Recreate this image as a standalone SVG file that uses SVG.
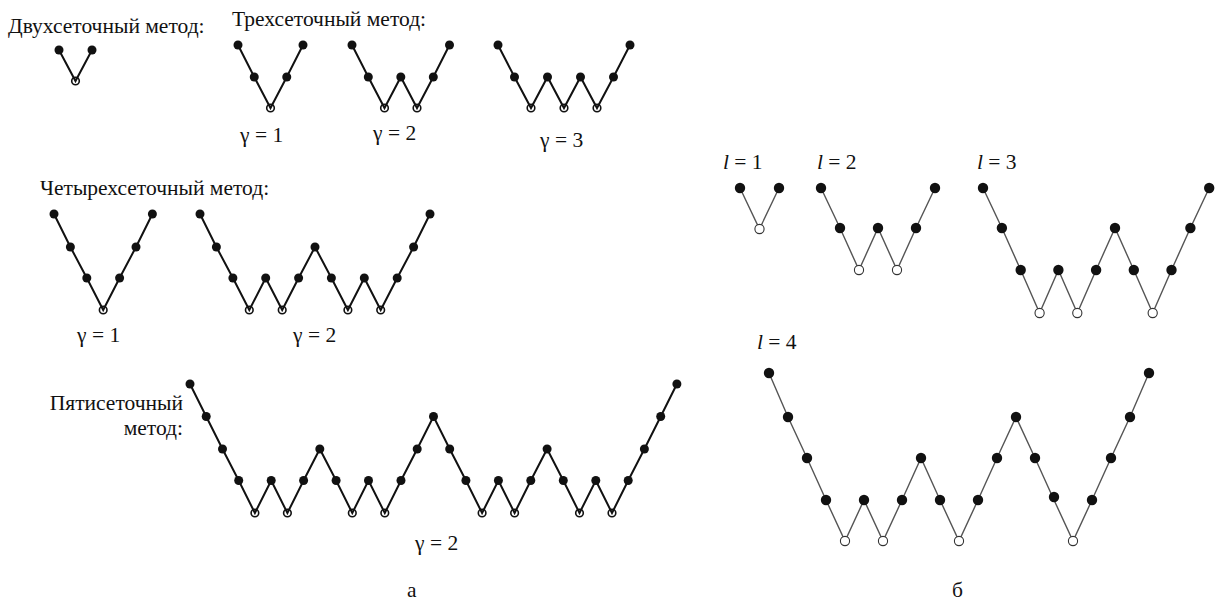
<svg xmlns="http://www.w3.org/2000/svg" width="1217" height="602" viewBox="0 0 1217 602">
<style>
text{font-size:21.5px;fill:#111}
.it{font-style:italic}
.la{fill:none;stroke:#111;stroke-width:2;stroke-linejoin:miter}
.lb{fill:none;stroke:#555;stroke-width:1.4}
.fa{fill:#111}
.oa{fill:none;stroke:#111;stroke-width:1.6}
.fb{fill:#111}
.ob{fill:#fff;stroke:#333;stroke-width:1.1}
</style>
<rect width="1217" height="602" fill="#fff"/>
<g id="labels" font-family="Liberation Serif, serif">
<text x="8" y="33">Двухсеточный метод:</text>
<text x="232" y="26">Трехсеточный метод:</text>
<text x="240" y="142">γ = 1</text>
<text x="373" y="140">γ = 2</text>
<text x="540" y="147">γ = 3</text>
<text x="40" y="195">Четырехсеточный метод:</text>
<text x="77" y="342">γ = 1</text>
<text x="293" y="342">γ = 2</text>
<text x="183" y="410" text-anchor="end">Пятисеточный</text>
<text x="183" y="435" text-anchor="end">метод:</text>
<text x="415" y="550">γ = 2</text>
<text x="407" y="597">а</text>
<text x="723" y="169"><tspan class="it">l</tspan> = 1</text>
<text x="817" y="169"><tspan class="it">l</tspan> = 2</text>
<text x="977" y="169"><tspan class="it">l</tspan> = 3</text>
<text x="757" y="349"><tspan class="it">l</tspan> = 4</text>
<text x="952" y="597">б</text>
</g>
<g id="connectors">
<polyline class="la" points="59,50 75.5,81 92,50"/>
<polyline class="la" points="238,45 254.25,77 270.5,108 286.75,77 303,45"/>
<polyline class="la" points="352,45 368.3,77 384.5,108 400.8,77 417,108 433.3,77 449.5,45"/>
<polyline class="la" points="498,45 514.5,77 531,108 547.5,77 564,108 580.5,77 597,108 613.5,77 630,45"/>
<polyline class="la" points="54,214 70.4,247 86.8,278 103.2,310 119.6,278 136,247 152.4,214"/>
<polyline class="la" points="200,214 216.4,247 232.9,278 249.3,310 265.7,278 282.2,310 298.6,278 315,247 331.4,278 347.9,310 364.3,278 380.7,310 397.2,278 413.6,247 430,214"/>
<polyline class="la" points="190,384 206.2,416.5 222.5,449 238.7,480.5 254.9,513 271.2,480.5 287.4,513 303.6,480.5 319.8,449 336.1,480.5 352.3,513 368.5,480.5 384.8,513 401,480.5 417.2,449 433.5,416.5 449.7,449 465.9,480.5 482.1,513 498.4,480.5 514.6,513 530.8,480.5 547.1,449 563.3,480.5 579.5,513 595.8,480.5 612,513 628.2,480.5 644.4,449 660.7,416.5 676.9,384"/>
<polyline class="lb" points="740,188 759.5,229 779,188"/>
<polyline class="lb" points="821,188 840,228 859,270 878,228 897,270 916,228 935,188"/>
<polyline class="lb" points="983,188 1001.9,228 1020.7,270 1039.6,313 1058.4,270 1077.3,313 1096.1,270 1115,228 1133.8,270 1152.7,313 1171.5,270 1190.4,228 1209.2,188"/>
<polyline class="lb" points="769,373 788,417 807,458 826,500 845,541 864,500 883,541 902,500 921,458 940,500 959,541 978,500 997,458 1016,417 1035,458 1054,500 1073,541 1092,500 1111,458 1130,417 1149,373"/>
</g>
<g id="two-grid">
<circle class="fa" cx="59" cy="50" r="4.5"/><circle class="oa" cx="75.5" cy="81" r="3.8"/><circle class="fa" cx="92" cy="50" r="4.5"/>
</g>
<g id="three-grid-g1">
<circle class="fa" cx="238" cy="45" r="4.5"/><circle class="fa" cx="254.25" cy="77" r="4.5"/><circle class="oa" cx="270.5" cy="108" r="3.8"/><circle class="fa" cx="286.75" cy="77" r="4.5"/><circle class="fa" cx="303" cy="45" r="4.5"/>
</g>
<g id="three-grid-g2">
<circle class="fa" cx="352" cy="45" r="4.5"/><circle class="fa" cx="368.3" cy="77" r="4.5"/><circle class="oa" cx="384.5" cy="108" r="3.8"/><circle class="fa" cx="400.8" cy="77" r="4.5"/><circle class="oa" cx="417" cy="108" r="3.8"/><circle class="fa" cx="433.3" cy="77" r="4.5"/><circle class="fa" cx="449.5" cy="45" r="4.5"/>
</g>
<g id="three-grid-g3">
<circle class="fa" cx="498" cy="45" r="4.5"/><circle class="fa" cx="514.5" cy="77" r="4.5"/><circle class="oa" cx="531" cy="108" r="3.8"/><circle class="fa" cx="547.5" cy="77" r="4.5"/><circle class="oa" cx="564" cy="108" r="3.8"/><circle class="fa" cx="580.5" cy="77" r="4.5"/><circle class="oa" cx="597" cy="108" r="3.8"/><circle class="fa" cx="613.5" cy="77" r="4.5"/><circle class="fa" cx="630" cy="45" r="4.5"/>
</g>
<g id="four-grid-g1">
<circle class="fa" cx="54" cy="214" r="4.5"/><circle class="fa" cx="70.4" cy="247" r="4.5"/><circle class="fa" cx="86.8" cy="278" r="4.5"/><circle class="oa" cx="103.2" cy="310" r="3.8"/><circle class="fa" cx="119.6" cy="278" r="4.5"/><circle class="fa" cx="136" cy="247" r="4.5"/><circle class="fa" cx="152.4" cy="214" r="4.5"/>
</g>
<g id="four-grid-g2">
<circle class="fa" cx="200" cy="214" r="4.5"/><circle class="fa" cx="216.4" cy="247" r="4.5"/><circle class="fa" cx="232.9" cy="278" r="4.5"/><circle class="oa" cx="249.3" cy="310" r="3.8"/><circle class="fa" cx="265.7" cy="278" r="4.5"/><circle class="oa" cx="282.2" cy="310" r="3.8"/><circle class="fa" cx="298.6" cy="278" r="4.5"/><circle class="fa" cx="315" cy="247" r="4.5"/><circle class="fa" cx="331.4" cy="278" r="4.5"/><circle class="oa" cx="347.9" cy="310" r="3.8"/><circle class="fa" cx="364.3" cy="278" r="4.5"/><circle class="oa" cx="380.7" cy="310" r="3.8"/><circle class="fa" cx="397.2" cy="278" r="4.5"/><circle class="fa" cx="413.6" cy="247" r="4.5"/><circle class="fa" cx="430" cy="214" r="4.5"/>
</g>
<g id="five-grid-g2">
<circle class="fa" cx="190" cy="384" r="4.5"/><circle class="fa" cx="206.2" cy="416.5" r="4.5"/><circle class="fa" cx="222.5" cy="449" r="4.5"/><circle class="fa" cx="238.7" cy="480.5" r="4.5"/><circle class="oa" cx="254.9" cy="513" r="3.8"/><circle class="fa" cx="271.2" cy="480.5" r="4.5"/><circle class="oa" cx="287.4" cy="513" r="3.8"/><circle class="fa" cx="303.6" cy="480.5" r="4.5"/><circle class="fa" cx="319.8" cy="449" r="4.5"/><circle class="fa" cx="336.1" cy="480.5" r="4.5"/><circle class="oa" cx="352.3" cy="513" r="3.8"/><circle class="fa" cx="368.5" cy="480.5" r="4.5"/><circle class="oa" cx="384.8" cy="513" r="3.8"/><circle class="fa" cx="401" cy="480.5" r="4.5"/><circle class="fa" cx="417.2" cy="449" r="4.5"/><circle class="fa" cx="433.5" cy="416.5" r="4.5"/><circle class="fa" cx="449.7" cy="449" r="4.5"/><circle class="fa" cx="465.9" cy="480.5" r="4.5"/><circle class="oa" cx="482.1" cy="513" r="3.8"/><circle class="fa" cx="498.4" cy="480.5" r="4.5"/><circle class="oa" cx="514.6" cy="513" r="3.8"/><circle class="fa" cx="530.8" cy="480.5" r="4.5"/><circle class="fa" cx="547.1" cy="449" r="4.5"/><circle class="fa" cx="563.3" cy="480.5" r="4.5"/><circle class="oa" cx="579.5" cy="513" r="3.8"/><circle class="fa" cx="595.8" cy="480.5" r="4.5"/><circle class="oa" cx="612" cy="513" r="3.8"/><circle class="fa" cx="628.2" cy="480.5" r="4.5"/><circle class="fa" cx="644.4" cy="449" r="4.5"/><circle class="fa" cx="660.7" cy="416.5" r="4.5"/><circle class="fa" cx="676.9" cy="384" r="4.5"/>
</g>
<g id="l1">
<circle class="fb" cx="740" cy="188" r="5.2"/><circle class="ob" cx="759.5" cy="229" r="4.6"/><circle class="fb" cx="779" cy="188" r="5.2"/>
</g>
<g id="l2">
<circle class="fb" cx="821" cy="188" r="5.2"/><circle class="fb" cx="840" cy="228" r="5.2"/><circle class="ob" cx="859" cy="270" r="4.6"/><circle class="fb" cx="878" cy="228" r="5.2"/><circle class="ob" cx="897" cy="270" r="4.6"/><circle class="fb" cx="916" cy="228" r="5.2"/><circle class="fb" cx="935" cy="188" r="5.2"/>
</g>
<g id="l3">
<circle class="fb" cx="983" cy="188" r="5.2"/><circle class="fb" cx="1001.9" cy="228" r="5.2"/><circle class="fb" cx="1020.7" cy="270" r="5.2"/><circle class="ob" cx="1039.6" cy="313" r="4.6"/><circle class="fb" cx="1058.4" cy="270" r="5.2"/><circle class="ob" cx="1077.3" cy="313" r="4.6"/><circle class="fb" cx="1096.1" cy="270" r="5.2"/><circle class="fb" cx="1115" cy="228" r="5.2"/><circle class="fb" cx="1133.8" cy="270" r="5.2"/><circle class="ob" cx="1152.7" cy="313" r="4.6"/><circle class="fb" cx="1171.5" cy="270" r="5.2"/><circle class="fb" cx="1190.4" cy="228" r="5.2"/><circle class="fb" cx="1209.2" cy="188" r="5.2"/>
</g>
<g id="l4">
<circle class="fb" cx="769" cy="373" r="5.2"/><circle class="fb" cx="788" cy="417" r="5.2"/><circle class="fb" cx="807" cy="458" r="5.2"/><circle class="fb" cx="826" cy="500" r="5.2"/><circle class="ob" cx="845" cy="541" r="4.6"/><circle class="fb" cx="864" cy="500" r="5.2"/><circle class="ob" cx="883" cy="541" r="4.6"/><circle class="fb" cx="902" cy="500" r="5.2"/><circle class="fb" cx="921" cy="458" r="5.2"/><circle class="fb" cx="940" cy="500" r="5.2"/><circle class="ob" cx="959" cy="541" r="4.6"/><circle class="fb" cx="978" cy="500" r="5.2"/><circle class="fb" cx="997" cy="458" r="5.2"/><circle class="fb" cx="1016" cy="417" r="5.2"/><circle class="fb" cx="1035" cy="458" r="5.2"/><circle class="fb" cx="1054" cy="497" r="5.2"/><circle class="ob" cx="1073" cy="541" r="4.6"/><circle class="fb" cx="1092" cy="500" r="5.2"/><circle class="fb" cx="1111" cy="458" r="5.2"/><circle class="fb" cx="1130" cy="417" r="5.2"/><circle class="fb" cx="1149" cy="373" r="5.2"/>
</g>
</svg>
